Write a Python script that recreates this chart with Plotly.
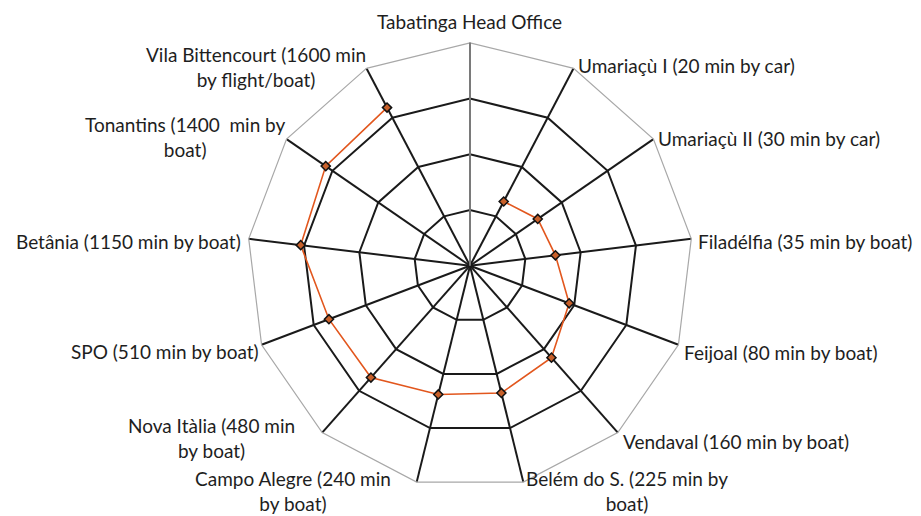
import plotly.graph_objects as go

categories = [
    "Tabatinga Head Office",
    "Umariaçù I (20 min by car)",
    "Umariaçù II (30 min by car)",
    "Filadélfia (35 min by boat)",
    "Feijoal (80 min by boat)",
    "Vendaval (160 min by boat)",
    "Belém do S. (225 min by<br>boat)",
    "Campo Alegre (240 min<br>by boat)",
    "Nova Itàlia (480 min<br>by boat)",
    "SPO (510 min by boat)",
    "Betânia (1150 min by boat)",
    "Tonantins (1400  min by<br>boat)",
    "Vila Bittencourt (1600 min<br>by flight/boat)",
]
minutes = [1, 20, 30, 35, 80, 160, 225, 240, 480, 510, 1150, 1400, 1600]
ring_values = [10, 100, 1000, 10000]

# The page body adds an 8px margin, so the figure is sized to the remaining area
OFF = 8
WIN_W, WIN_H = 921, 516
W, H = WIN_W - OFF, WIN_H - OFF

# label anchor positions (window pixels) and anchors -- layout only
label_pos = [
    (470, 22, "center"),
    (577, 65, "left"),
    (657, 138, "left"),
    (697, 242, "left"),
    (683, 352, "left"),
    (622, 441, "left"),
    (525, 491, "left"),
    (392, 491, "right"),
    (296, 438, "right"),
    (260, 351, "right"),
    (242, 242, "right"),
    (287, 137, "right"),
    (367, 67, "right"),
]


def px_x(px):
    return (px - OFF) / W


def px_y(py):
    return (WIN_H - py) / H


fig = go.Figure()
fig.add_trace(go.Scatterpolar(
    r=minutes[1:],
    theta=categories[1:],
    mode="lines+markers",
    line=dict(color="#E2571E", width=1.6),
    marker=dict(symbol="diamond", size=7, color="#C8602A",
                line=dict(color="#111111", width=1.5)),
    showlegend=False,
    hoverinfo="skip",
))

annotations = []
for text, (px, py, anc) in zip(categories, label_pos):
    annotations.append(dict(
        text=text, x=px_x(px), y=px_y(py), xref="paper", yref="paper",
        xanchor=anc, yanchor="middle", align="center", showarrow=False,
        borderpad=0,
        font=dict(family="Lato", size=19, color="#1e1e1e"),
    ))

fig.update_layout(
    width=W, height=H,
    margin=dict(l=0, r=0, t=0, b=0),
    paper_bgcolor="white",
    font=dict(family="Lato", size=19, color="#1e1e1e"),
    annotations=annotations,
    polar=dict(
        domain=dict(x=[px_x(247.1), px_x(692.9)], y=[px_y(488.6), px_y(42.8)]),
        bgcolor="white",
        gridshape="linear",
        radialaxis=dict(
            type="log", range=[0, 4], tickvals=ring_values,
            showticklabels=False, ticks="",
            showgrid=True, gridcolor="#1a1a1a", gridwidth=1.5,
            showline=True, linecolor="#7a7a7a", linewidth=2,
            angle=90,
        ),
        angularaxis=dict(
            categoryarray=categories, categoryorder="array",
            rotation=90, direction="clockwise",
            showgrid=True, gridcolor="#1a1a1a", gridwidth=1.5,
            showline=True, linecolor="#a8a8a8", linewidth=1.2,
            ticks="", showticklabels=False,
        ),
    ),
)
fig.write_html("out.html")
